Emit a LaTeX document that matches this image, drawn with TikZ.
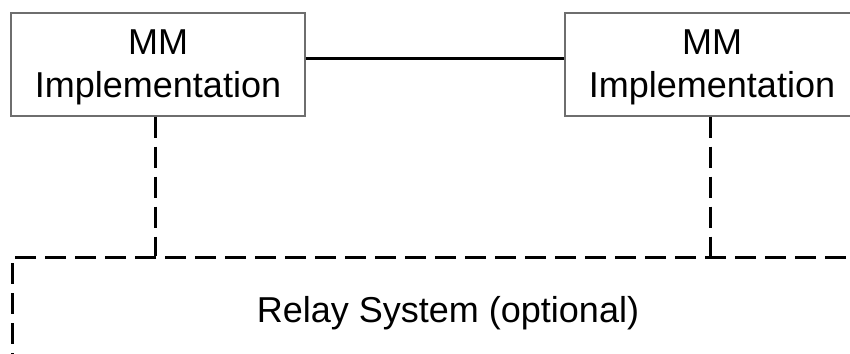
\documentclass[tikz,border=0pt]{standalone}
\usepackage{fontspec}
\setmainfont{Liberation Sans}
\definecolor{boxgray}{HTML}{6E6E6E}
\tikzset{
  mmbox/.style={draw=boxgray, line width=1.3pt, minimum width=294pt, minimum height=103pt, inner sep=0pt},
  relaybox/.style={draw=black, line width=3pt, dash pattern=on 21pt off 9pt, minimum width=872pt, minimum height=170pt, inner sep=0pt},
  lbl/.style={font=\fontsize{36}{42}\selectfont, anchor=base, inner sep=0pt},
  solidline/.style={line width=3pt},
  dashline/.style={line width=3pt, dash pattern=on 21pt off 9pt}
}
\begin{document}
\begin{tikzpicture}[x=1pt,y=-1pt]
\useasboundingbox (0,0) rectangle (850,353);
\clip (0,0) rectangle (850,353);
\node[mmbox] (lbox) at (158,64.5) {};
\node[mmbox] (rbox) at (712,64.5) {};
\node[relaybox] (relay) at (448,342) {};
\node[lbl] (lt1) at (158,55) {MM};
\node[lbl] (lt2) at (158,97) {Implementation};
\node[lbl] (rt1) at (712,55) {MM};
\node[lbl] (rt2) at (712,97) {Implementation};
\node[lbl] (rl) at (448,322) {Relay System (optional)};
\draw[solidline] ([yshift=6pt]lbox.east) -- ([yshift=6pt]rbox.west);
\draw[dashline] ([xshift=-3pt]lbox.south) -- ([xshift=-3pt]lbox.south |- relay.north);
\draw[dashline] ([xshift=-2pt]rbox.south) -- ([xshift=-2pt]rbox.south |- relay.north);
\end{tikzpicture}
\end{document}
